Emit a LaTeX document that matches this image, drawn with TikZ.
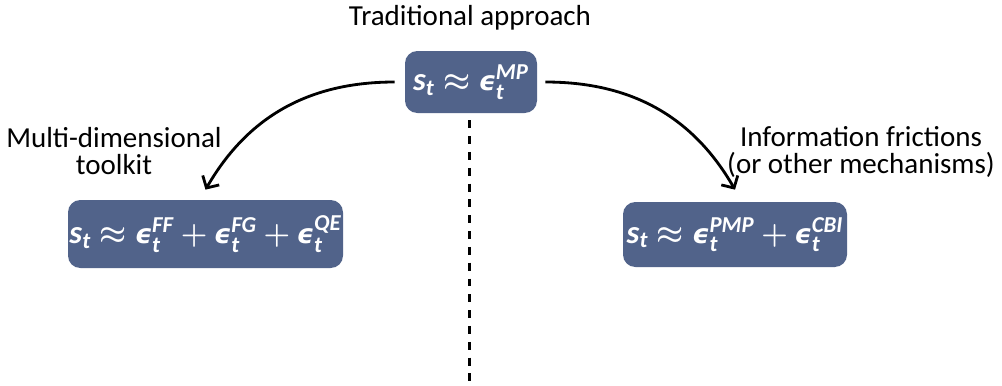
\documentclass[tikz,border=0pt]{standalone}
\usepackage{amsmath,amssymb,bm}
\usepackage{fontspec}
\setmainfont{Carlito}
\newfontfamily\epsfont[Scale=0.82]{DejaVu Sans}
\usepackage{tikz}
\usetikzlibrary{arrows.meta}
\definecolor{myslate}{RGB}{81,99,138}
\newcommand{\bi}[1]{\text{\bfseries\itshape #1}}
\newcommand{\eps}{\text{\epsfont\bfseries\itshape ϵ}}

\begin{document}
\begin{tikzpicture}[
  shockbox/.style={fill=myslate,rounded corners=7pt,text=white,
    inner sep=0pt,font=\fontsize{18.5}{22}\selectfont},
  lbl/.style={align=center,font=\fontsize{16.5}{15.5}\selectfont},
  curvearrow/.style={line width=1.6pt,-{Straight Barb[length=1.8mm,width=3.8mm]}}
]
\useasboundingbox (0,0) rectangle (20.04,-7.7);

% the boxes
\node[shockbox,minimum width=2.64cm,minimum height=1.24cm] (mp) at (9.42,-1.64)
  {$\bi{s}_{\bi{t}} \bm{\approx} \eps_{\bi{t}}^{\bi{MP}}$};
\node[shockbox,minimum width=5.5cm,minimum height=1.36cm] (multi) at (4.11,-4.68)
  {$\bi{s}_{\bi{t}} \bm{\approx} \eps_{\bi{t}}^{\bi{FF}}
   \bm{+} \eps_{\bi{t}}^{\bi{FG}}
   \bm{+} \eps_{\bi{t}}^{\bi{QE}}$};
\node[shockbox,minimum width=4.48cm,minimum height=1.3cm] (info) at (14.70,-4.69)
  {$\bi{s}_{\bi{t}} \bm{\approx} \eps_{\bi{t}}^{\bi{PMP}}
   \bm{+} \eps_{\bi{t}}^{\bi{CBI}}$};

% the labels
\node[lbl] (trad) at (9.40,-0.36) {Traditional approach};
\node[lbl] (tool) at (2.28,-3.02) {Multi-dimensional\\toolkit};
\node[lbl] (fric) at (17.22,-3.04) {Information frictions\\(or other mechanisms)};

% the arrows
\draw[curvearrow] ([xshift=-0.2cm]mp.west) to[out=180,in=60] ([yshift=0.2cm]multi.north);
\draw[curvearrow] ([xshift=0.16cm]mp.east) to[out=0,in=120] ([yshift=0.24cm]info.north);

% the dashed split
\coordinate (split) at (9.38,-7.7);
\draw[line width=1.7pt,dash pattern=on 4.5pt off 4.5pt] (mp.south -| split) ++(0,-0.14) -- (split);
\end{tikzpicture}
\end{document}
